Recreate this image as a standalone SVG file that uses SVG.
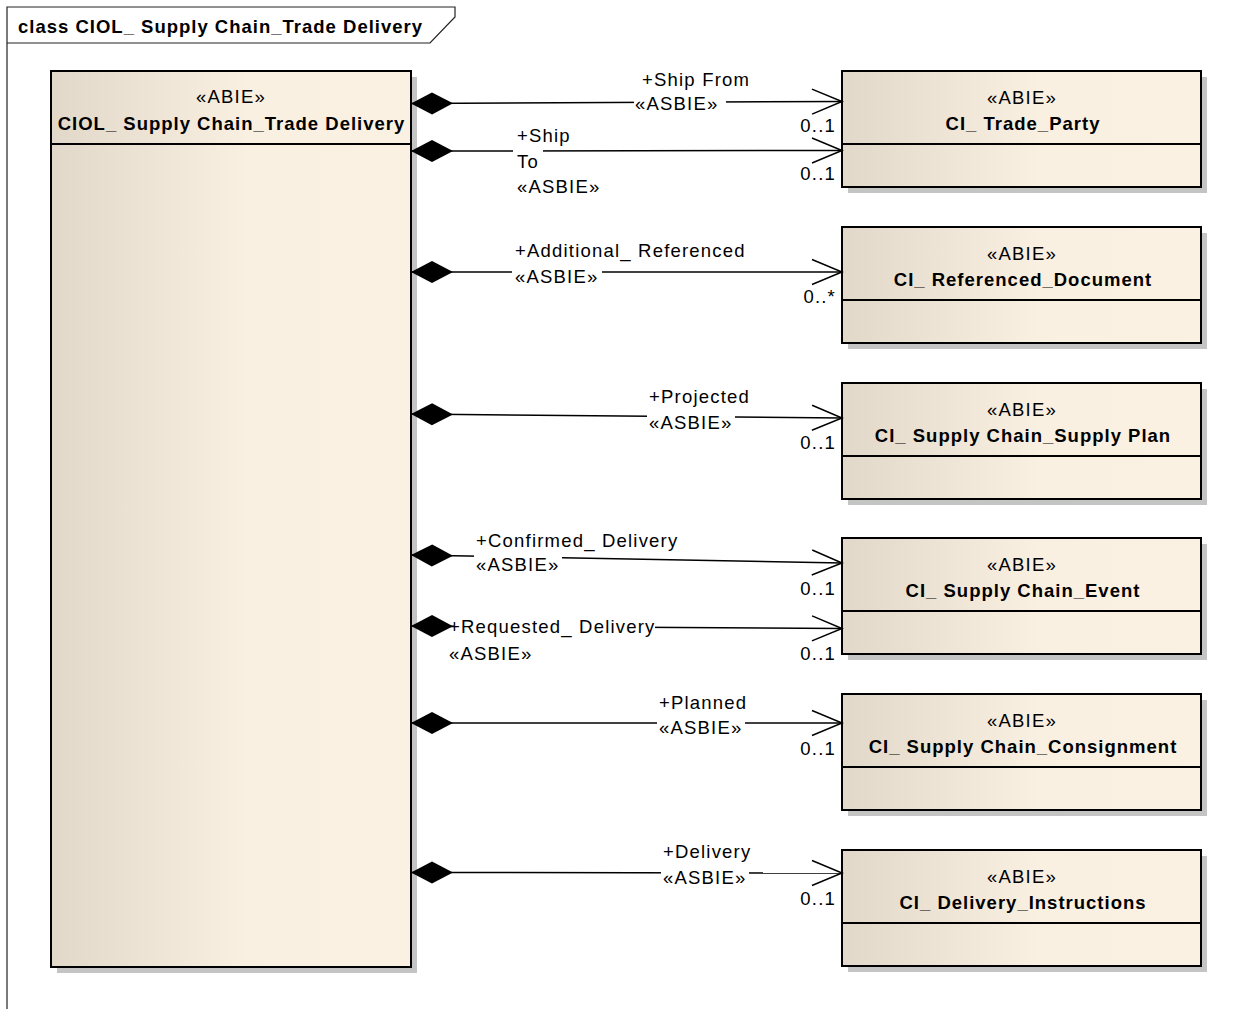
<svg xmlns="http://www.w3.org/2000/svg" width="1243" height="1009" viewBox="0 0 1243 1009">
<style>
text{font-family:"Liberation Sans",Arial,sans-serif;font-size:18.5px;fill:#000;letter-spacing:1.2px}
.b{font-weight:bold;letter-spacing:1px}
.c{text-anchor:middle}
.e{text-anchor:end}
.box{fill:url(#g);stroke:#000;stroke-width:2}
.sh{fill:#c4c4c4}
.div{stroke:#000;stroke-width:2}
.ln{fill:none;stroke:#000;stroke-width:1.5;marker-start:url(#dia);marker-end:url(#arr)}
.bg{fill:#fff}
.frame{fill:none;stroke:#222;stroke-width:1.2}
</style>
<defs>
<linearGradient id="g" x1="0" y1="0" x2="1" y2="0">
<stop offset="0" stop-color="#E2D8C9"/>
<stop offset="0.55" stop-color="#FAF0E2"/>
<stop offset="1" stop-color="#FBF1E3"/>
</linearGradient>
<marker id="dia" markerUnits="userSpaceOnUse" markerWidth="46" markerHeight="26" viewBox="-2 -13 46 26" refX="0" refY="0" orient="auto">
<path d="M0,0 L21,-11 L42,0 L21,11 Z" fill="#000"/>
</marker>
<marker id="arr" markerUnits="userSpaceOnUse" markerWidth="34" markerHeight="30" viewBox="-32 -15 34 30" refX="0" refY="0" orient="auto">
<path d="M-30,-12.5 L0,0 L-30,12.5" fill="none" stroke="#000" stroke-width="1.5"/>
</marker>
</defs>
<rect width="1243" height="1009" fill="#fff"/>
<g id="frame">
<path class="frame" d="M7,1009 L7,7 L455,7 L455,17 L430,43 L7,43"/>
<text class="b" x="18" y="33">class CIOL_ Supply Chain_Trade Delivery</text>
</g>
<g id="n-main">
<rect class="sh" x="57" y="77" width="360" height="896"/>
<rect class="box" x="51" y="71" width="360" height="896"/>
<line class="div" x1="51" y1="144" x2="411" y2="144"/>
<text class="c" x="231" y="103">«ABIE»</text>
<text class="b c" x="231.5" y="130">CIOL_ Supply Chain_Trade Delivery</text>
</g>
<g id="n-tradeparty">
<rect class="sh" x="848" y="77" width="359" height="116"/>
<rect class="box" x="842" y="71" width="359" height="116"/>
<line class="div" x1="842" y1="144" x2="1201" y2="144"/>
<text class="c" x="1022" y="103.5">«ABIE»</text>
<text class="b c" x="1023" y="130">CI_ Trade_Party</text>
</g>
<g id="n-refdoc">
<rect class="sh" x="848" y="233" width="359" height="116"/>
<rect class="box" x="842" y="227" width="359" height="116"/>
<line class="div" x1="842" y1="300" x2="1201" y2="300"/>
<text class="c" x="1022" y="259.5">«ABIE»</text>
<text class="b c" x="1023" y="286">CI_ Referenced_Document</text>
</g>
<g id="n-supplyplan">
<rect class="sh" x="848" y="389" width="359" height="116"/>
<rect class="box" x="842" y="383" width="359" height="116"/>
<line class="div" x1="842" y1="456" x2="1201" y2="456"/>
<text class="c" x="1022" y="415.5">«ABIE»</text>
<text class="b c" x="1023" y="442">CI_ Supply Chain_Supply Plan</text>
</g>
<g id="n-event">
<rect class="sh" x="848" y="544" width="359" height="116"/>
<rect class="box" x="842" y="538" width="359" height="116"/>
<line class="div" x1="842" y1="611" x2="1201" y2="611"/>
<text class="c" x="1022" y="570.5">«ABIE»</text>
<text class="b c" x="1023" y="597">CI_ Supply Chain_Event</text>
</g>
<g id="n-consignment">
<rect class="sh" x="848" y="700" width="359" height="116"/>
<rect class="box" x="842" y="694" width="359" height="116"/>
<line class="div" x1="842" y1="767" x2="1201" y2="767"/>
<text class="c" x="1022" y="726.5">«ABIE»</text>
<text class="b c" x="1023" y="753">CI_ Supply Chain_Consignment</text>
</g>
<g id="n-instructions">
<rect class="sh" x="848" y="856" width="359" height="116"/>
<rect class="box" x="842" y="850" width="359" height="116"/>
<line class="div" x1="842" y1="923" x2="1201" y2="923"/>
<text class="c" x="1022" y="882.5">«ABIE»</text>
<text class="b c" x="1023" y="909">CI_ Delivery_Instructions</text>
</g>
<g id="connectors">
<g id="c-shipfrom">
<path class="ln" d="M411,103.5 L842,101.5"/>
<rect class="bg" x="634" y="95" width="92" height="17"/>
<text x="642" y="86">+Ship From</text>
<text x="635" y="110">«ASBIE»</text>
<text class="e" x="836" y="131.5">0..1</text>
</g>
<g id="c-shipto">
<path class="ln" d="M411,151 L842,150.5"/>
<rect class="bg" x="513" y="145" width="30" height="12"/>
<text x="517" y="142">+Ship</text>
<text x="517" y="167.5">To</text>
<text x="517" y="193">«ASBIE»</text>
<text class="e" x="836" y="180">0..1</text>
</g>
<g id="c-additional">
<path class="ln" d="M411,272 L842,272"/>
<rect class="bg" x="512" y="265" width="90" height="17"/>
<text x="515" y="256.5">+Additional_ Referenced</text>
<text x="515" y="282.5">«ASBIE»</text>
<text class="e" x="836" y="302.5">0..*</text>
</g>
<g id="c-projected">
<path class="ln" d="M411,414 L842,418"/>
<rect class="bg" x="647" y="409" width="88" height="17"/>
<text x="649" y="402.5">+Projected</text>
<text x="649" y="428.5">«ASBIE»</text>
<text class="e" x="836" y="448.5">0..1</text>
</g>
<g id="c-confirmed">
<path class="ln" d="M411,555 L842,563"/>
<rect class="bg" x="474" y="550" width="88" height="17"/>
<text x="476" y="546.5">+Confirmed_ Delivery</text>
<text x="476" y="570.5">«ASBIE»</text>
<text class="e" x="836" y="594.5">0..1</text>
</g>
<g id="c-requested">
<path class="ln" d="M411,626 L842,628.5"/>
<rect class="bg" x="454" y="619" width="201" height="17"/>
<text x="449" y="633">+Requested_ Delivery</text>
<text x="449" y="659.5">«ASBIE»</text>
<text class="e" x="836" y="659.5">0..1</text>
</g>
<g id="c-planned">
<path class="ln" d="M411,723 L842,723"/>
<rect class="bg" x="657" y="716" width="88" height="17"/>
<text x="659" y="708.5">+Planned</text>
<text x="659" y="734">«ASBIE»</text>
<text class="e" x="836" y="755">0..1</text>
</g>
<g id="c-delivery">
<path class="ln" d="M411,872.5 L842,873"/>
<rect class="bg" x="661" y="866" width="88" height="17"/>
<text x="663" y="858">+Delivery</text>
<text x="663" y="884">«ASBIE»</text>
<text class="e" x="836" y="905">0..1</text>
</g>
</g>
</svg>
